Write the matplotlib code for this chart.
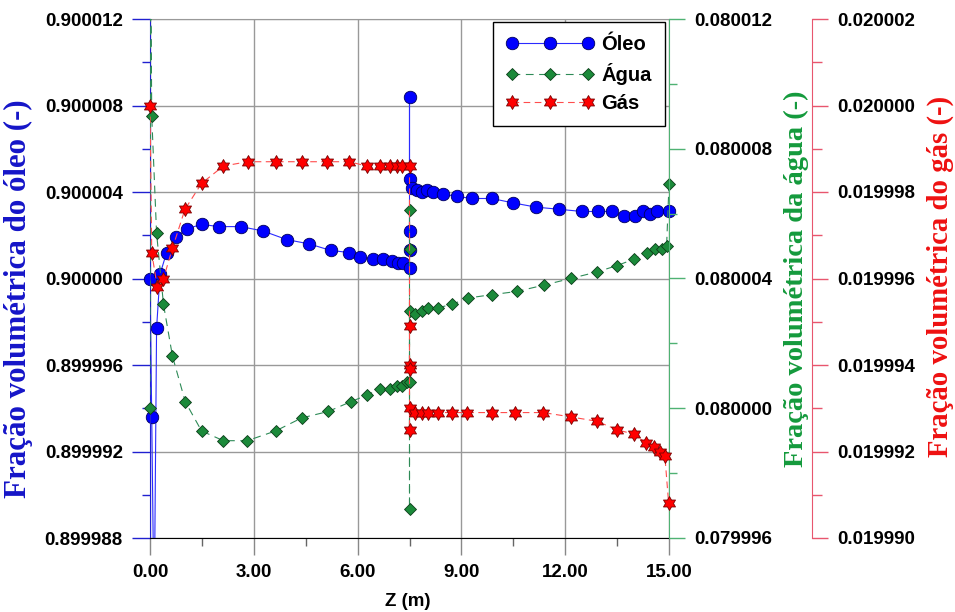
import numpy as np
import matplotlib
matplotlib.use('Agg')
import matplotlib.pyplot as plt
from matplotlib.path import Path
from matplotlib.lines import Line2D
from matplotlib.ticker import FixedLocator, MultipleLocator, FormatStrFormatter

# --- data ---
z_oleo = [0.00, 0.05, 0.12, 0.19, 0.29, 0.48, 0.75, 1.06, 1.49, 2.00, 2.62, 3.26, 3.95,
          4.60, 5.22, 5.76, 6.07, 6.45, 6.74, 6.99, 7.18, 7.32, 7.50, 7.50, 7.50, 7.50,
          7.50, 7.56, 7.71, 7.85, 8.00, 8.19, 8.48, 8.86, 9.30, 9.88, 10.48, 11.16, 11.83,
          12.48, 12.96, 13.35, 13.69, 14.02, 14.25, 14.45, 14.64, 15.00]
oleo = [0.9000000, 0.8999936, 0.8999840, 0.8999977, 0.9000002, 0.9000012, 0.9000019,
        0.9000023, 0.9000025, 0.9000024, 0.9000024, 0.9000022, 0.9000018, 0.9000016,
        0.9000013, 0.9000012, 0.9000010, 0.9000009, 0.9000009, 0.9000008, 0.9000007,
        0.9000007, 0.9000005, 0.9000013, 0.9000022, 0.9000084, 0.9000046, 0.9000042,
        0.9000041, 0.9000040, 0.9000041, 0.9000040, 0.9000039, 0.9000038, 0.9000037,
        0.9000037, 0.9000035, 0.9000033, 0.9000032, 0.9000031, 0.9000031, 0.9000031,
        0.9000029, 0.9000029, 0.9000031, 0.9000030, 0.9000031, 0.9000031]

z_agua = [0.00, 0.02, 0.05, 0.19, 0.39, 0.65, 1.02, 1.49, 2.12, 2.81, 3.63, 4.38, 5.15,
          5.80, 6.26, 6.65, 6.94, 7.13, 7.27, 7.42, 7.50, 7.50, 7.50, 7.50, 7.50, 7.66,
          7.85, 8.04, 8.33, 8.72, 9.20, 9.87, 10.60, 11.40, 12.16, 12.91, 13.50, 14.00,
          14.35, 14.60, 14.79, 14.93, 15.00]
agua = [0.0800000, 0.0800140, 0.0800090, 0.0800054, 0.0800032, 0.0800016, 0.0800002,
        0.0799993, 0.0799990, 0.0799990, 0.0799993, 0.0799997, 0.0799999, 0.0800002,
        0.0800004, 0.0800006, 0.0800006, 0.0800007, 0.0800007, 0.0800008, 0.0800008,
        0.0800061, 0.0800049, 0.0799969, 0.0800030, 0.0800029, 0.0800030, 0.0800031,
        0.0800031, 0.0800032, 0.0800034, 0.0800035, 0.0800036, 0.0800038, 0.0800040,
        0.0800042, 0.0800044, 0.0800046, 0.0800048, 0.0800049, 0.0800049, 0.0800050,
        0.0800069]

z_gas = [0.00, 0.05, 0.21, 0.39, 0.65, 1.01, 1.49, 2.12, 2.82, 3.63, 4.38, 5.13, 5.76,
         6.26, 6.65, 6.94, 7.13, 7.27, 7.50, 7.50, 7.50, 7.50, 7.50, 7.50, 7.66, 7.85,
         8.04, 8.33, 8.72, 9.17, 9.88, 10.55, 11.37, 12.16, 12.91, 13.51, 13.99, 14.33,
         14.57, 14.74, 14.88, 14.99]
gas = [0.0200000, 0.0199966, 0.0199958, 0.0199960, 0.0199967, 0.0199976, 0.0199982,
       0.0199986, 0.0199987, 0.0199987, 0.0199987, 0.0199987, 0.0199987, 0.0199986,
       0.0199986, 0.0199986, 0.0199986, 0.0199986, 0.0199986, 0.0199949, 0.0199940,
       0.0199939, 0.0199925, 0.0199930, 0.0199929, 0.0199929, 0.0199929, 0.0199929,
       0.0199929, 0.0199929, 0.0199929, 0.0199929, 0.0199929, 0.0199928, 0.0199927,
       0.0199925, 0.0199924, 0.0199922, 0.0199921, 0.0199920, 0.0199919, 0.0199908]

z_ticks = [0, 3, 6, 9, 12, 15]
oleo_ticks = [0.899988, 0.899992, 0.899996, 0.900000, 0.900004, 0.900008, 0.900012]
agua_ticks = [0.079996, 0.080000, 0.080004, 0.080008, 0.080012]
gas_ticks = [0.019990, 0.019992, 0.019994, 0.019996, 0.019998, 0.020000, 0.020002]

labels = ['Óleo', 'Água', 'Gás']

plt.rcParams['font.family'] = ['Liberation Sans', 'DejaVu Sans']
plt.rcParams['font.weight'] = 'bold'

hexagram = Path.unit_regular_star(6, innerCircle=0.577)

fig = plt.figure(figsize=(9.55, 6.12), dpi=100)
ax = fig.add_axes([150 / 955, 1 - 538 / 612, 519 / 955, 519 / 612])
ax2 = ax.twinx()
ax3 = ax.twinx()
ax3.spines['right'].set_position(('axes', 1.2755))

styles = [
    dict(color='#2b2bff', ls='-', marker='o', ms=9.0, mfc='#0000ff', mec='#00005a'),
    dict(color='#2e8b57', ls=(0, (7, 5)), marker='D', ms=6.3, mfc='#1b8a3a', mec='#0b3d18'),
    dict(color='#ff4d4d', ls=(0, (6, 4)), marker=hexagram, ms=10.0, mfc='#ff0000', mec='#7a0000'),
]


def draw(axis, z, v, lo, hi, st):
    z = np.array(z)
    v = np.array(v)
    axis.plot(z, v, color=st['color'], ls=st['ls'], lw=0.8)
    keep = (v >= lo) & (v <= hi)
    axis.plot(z[keep], v[keep], ls='none', marker=st['marker'], ms=st['ms'],
              mfc=st['mfc'], mec=st['mec'], mew=0.6, clip_on=False)


draw(ax, z_oleo, oleo, oleo_ticks[0], oleo_ticks[-1], styles[0])
draw(ax2, z_agua, agua, agua_ticks[0], agua_ticks[-1], styles[1])
draw(ax3, z_gas, gas, gas_ticks[0], gas_ticks[-1], styles[2])

ax.set_xlim(z_ticks[0], z_ticks[-1])
ax.set_ylim(oleo_ticks[0], oleo_ticks[-1])
ax2.set_ylim(agua_ticks[0], agua_ticks[-1])
ax3.set_ylim(gas_ticks[0], gas_ticks[-1])

ax.xaxis.set_major_locator(FixedLocator(z_ticks))
ax.xaxis.set_minor_locator(MultipleLocator(1.5))
ax.xaxis.set_major_formatter(FormatStrFormatter('%.2f'))
ax.yaxis.set_major_locator(FixedLocator(oleo_ticks))
ax.yaxis.set_minor_locator(FixedLocator(np.array(oleo_ticks[:-1]) + 0.000002))
ax2.yaxis.set_major_locator(FixedLocator(agua_ticks))
ax2.yaxis.set_minor_locator(FixedLocator(np.array(agua_ticks[:-1]) + 0.000002))
ax3.yaxis.set_major_locator(FixedLocator(gas_ticks))
ax3.yaxis.set_minor_locator(FixedLocator(np.array(gas_ticks[:-1]) + 0.000001))
for a in (ax, ax2, ax3):
    a.yaxis.set_major_formatter(FormatStrFormatter('%.6f'))

ax.grid(True, which='major', color='#999999', lw=1.0)
ax.set_axisbelow(True)

# spines
ax.spines['left'].set_color('#2020d0')
ax.spines['bottom'].set_color('black')
ax.spines['top'].set_color('#999999')
ax.spines['right'].set_visible(False)
for s in ('left', 'top', 'bottom'):
    ax2.spines[s].set_visible(False)
    ax3.spines[s].set_visible(False)
ax2.spines['right'].set_color('#4fb273')
ax3.spines['right'].set_color('#e8566e')

ax.tick_params(axis='x', which='major', length=12, width=1, color='#888888', pad=7, labelsize=13.5)
ax.tick_params(axis='x', which='minor', length=6, width=1, color='#666666')
ax.tick_params(axis='y', which='major', length=13, width=1, color='#2020d0', pad=6.5, labelsize=13.5)
ax.tick_params(axis='y', which='minor', length=6, width=1, color='#2020d0')
ax2.tick_params(axis='y', which='major', length=11.5, width=1, color='#4fb273', pad=6.5, labelsize=13.5)
ax2.tick_params(axis='y', which='minor', length=6, width=1, color='#4fb273')
ax3.tick_params(axis='y', which='major', length=11.5, width=1, color='#e8566e', pad=6.5, labelsize=13.5)
ax3.tick_params(axis='y', which='minor', length=7, width=1, color='#e8566e')

serif = ['Liberation Serif', 'DejaVu Serif']
ax.set_ylabel('Fração volumétrica do óleo (-)', color='#1515c8', family=serif, weight='bold',
              size=22.3, ha='center', va='center', rotation_mode='default')
ax.yaxis.set_label_coords(-0.2543, 0.4615)
ax2.set_ylabel('Fração volumétrica da água (-)', color='#149a3c', family=serif, weight='bold',
               size=20.5, ha='center', va='center', rotation_mode='default')
ax2.yaxis.set_label_coords(1.2447, 0.5)
ax3.set_ylabel('Fração volumétrica do gás (-)', color='#ee1111', family=serif, weight='bold',
               size=20.7, ha='center', va='center', rotation_mode='default')
ax3.yaxis.set_label_coords(1.522, 0.504)

ax.set_xlabel('Z (m)', fontsize=13.5, fontweight='bold', va='center')
ax.xaxis.set_label_coords(0.497, -(601 - 538) / 519)

handles = [Line2D([], [], color=st['color'], ls=st['ls'], lw=0.8, marker=st['marker'],
                  ms=st['ms'], mfc=st['mfc'], mec=st['mec'], mew=0.6) for st in styles]
leg = ax3.legend(handles, labels, loc='upper right', bbox_to_anchor=(1 - 4 / 519, 1 - 3 / 519),
                 borderaxespad=0, numpoints=3, handlelength=4.4, handletextpad=0.35,
                 labelspacing=0.45, borderpad=0.65, fancybox=False, framealpha=1,
                 prop=dict(weight='bold', size=14.5))
leg.get_frame().set_edgecolor('black')
leg.get_frame().set_linewidth(1.0)

fig.savefig('out.png', dpi=100)
